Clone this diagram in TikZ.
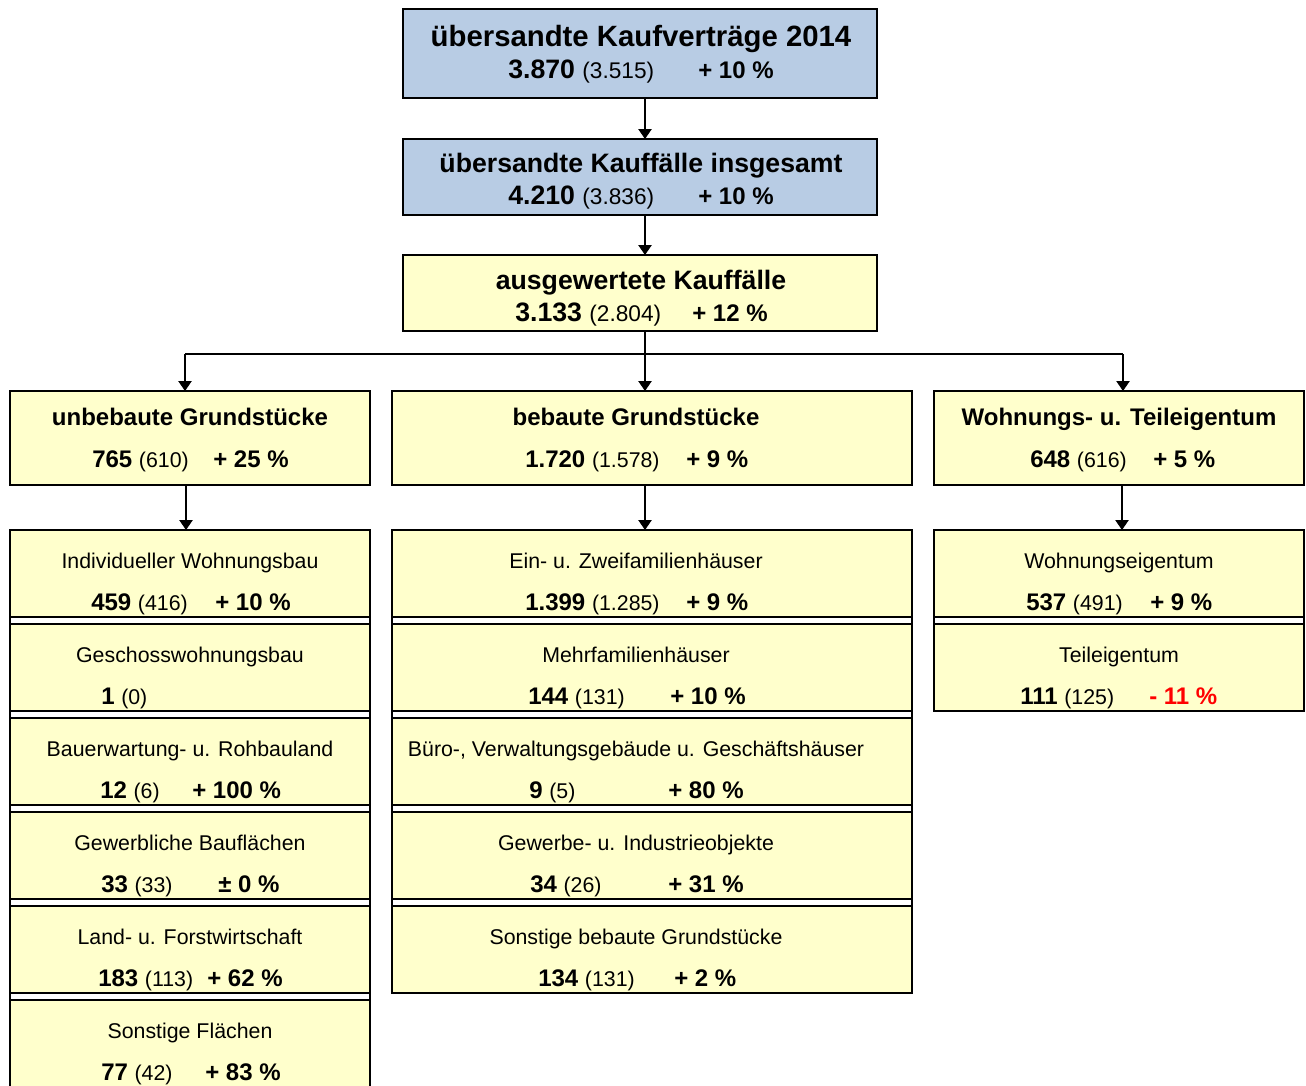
\documentclass[tikz,border=0pt]{standalone}
\usepackage{fontspec}
\setmainfont{Liberation Sans}
\usepackage{xcolor}
\usetikzlibrary{arrows.meta, positioning}
\definecolor{kvblue}{RGB}{184,204,228}
\definecolor{kvyellow}{RGB}{255,255,204}
\definecolor{kvred}{RGB}{255,0,0}
\newcommand{\vj}[2][16]{{\mdseries\fontsize{#1}{#1}\selectfont(#2)}}

\tikzset{
  topbox/.style={draw, line width=1.5pt, fill=kvblue, minimum width=355.5pt, inner sep=0pt, outer sep=0pt},
  midbox/.style={draw, line width=1.5pt, fill=kvyellow, minimum width=355.5pt, minimum height=57pt, inner sep=0pt, outer sep=0pt},
  catbox/.style={draw, line width=1.5pt, fill=kvyellow, minimum height=70.5pt, inner sep=0pt, outer sep=0pt},
  subbox/.style={draw, line width=1.5pt, fill=kvyellow, minimum height=65.25pt, inner sep=0pt, outer sep=0pt},
  frame/.style={line width=1.5pt},
  toptitle/.style={inner sep=0pt, anchor=base, font=\fontsize{20}{20}\selectfont\bfseries},
  cattitle/.style={inner sep=0pt, anchor=base, font=\fontsize{18}{18}\selectfont\bfseries},
  sublbl/.style={inner sep=0pt, anchor=base, font=\fontsize{16}{16}\selectfont},
  topnum/.style={inner sep=0pt, anchor=base west, font=\fontsize{20}{20}\selectfont\bfseries},
  num/.style={inner sep=0pt, anchor=base west, font=\fontsize{18}{18}\selectfont\bfseries},
  pct/.style={inner sep=0pt, anchor=base west, font=\fontsize{18}{18}\selectfont\bfseries},
  arr/.style={-{Triangle[length=7.5pt,width=10pt]}, line width=1.1pt},
  line/.style={line width=1.1pt}
}

\begin{document}
\begin{tikzpicture}[x=0.75pt, y=-0.75pt]
  \useasboundingbox (0,0) rectangle (1306,1085);

  %% top chain
  \node[topbox, minimum height=66.75pt] (kv) at (640,53.5) {};
  \node[toptitle, font=\fontsize{22}{22}\selectfont\bfseries] (kv-t) at (641,46) {übersandte Kaufverträge 2014};
  \node[topnum] (kv-n) at (508,78) {3.870 \vj[17]{3.515}};
  \node[pct] (kv-p) at (698,78) {+ 10 \%};

  \node[topbox, minimum height=57pt] (kf) at (640,177) {};
  \node[toptitle] (kf-t) at (641,172) {übersandte Kauffälle insgesamt};
  \node[topnum] (kf-n) at (508,204) {4.210 \vj[17]{3.836}};
  \node[pct] (kf-p) at (698,204) {+ 10 \%};

  \node[midbox] (ak) at (640,293) {};
  \node[toptitle] (ak-t) at (641,289) {ausgewertete Kauffälle};
  \node[topnum] (ak-n) at (515,321) {3.133 \vj[17]{2.804}};
  \node[pct] (ak-p) at (692,321) {+ 12 \%};

  \draw[arr] ([xshift=3.75pt]kv.south) -- ([xshift=3.75pt]kf.north);
  \draw[arr] ([xshift=3.75pt]kf.south) -- ([xshift=3.75pt]ak.north);

  %% categories
  \node[catbox, minimum width=270pt] (ug) at (190,438) {};
  \node[cattitle] (ug-t) at (190,425) {unbebaute Grundstücke};
  \node[num] (ug-n) at (92,467) {765 \vj{610}};
  \node[pct] (ug-p) at (213,467) {+ 25 \%};

  \node[catbox, minimum width=390pt] (bg) at (652,438) {};
  \node[cattitle] (bg-t) at (636,425) {bebaute Grundstücke};
  \node[num] (bg-n) at (525,467) {1.720 \vj{1.578}};
  \node[pct] (bg-p) at (686,467) {+ 9 \%};

  \node[catbox, minimum width=277.5pt] (wt) at (1119,438) {};
  \node[cattitle] (wt-t) at (1119,425) {Wohnungs- u. Teileigentum};
  \node[num] (wt-n) at (1030,467) {648 \vj{616}};
  \node[pct] (wt-p) at (1153,467) {+ 5 \%};

  \coordinate (split) at (645,354);
  \coordinate (bl) at (185,354);
  \coordinate (br) at (1123,354);
  \draw[line] ([xshift=3.75pt]ak.south) -- (split);
  \draw[line] (bl) -- (br);
  \draw[arr] (bl) -- (bl |- ug.north);
  \draw[arr] (split) -- (split |- bg.north);
  \draw[arr] (br) -- (br |- wt.north);

  %% unbebaute Grundstuecke
  \node[subbox, minimum width=270pt] (iwb) at (190,573.5) {};
  \node[sublbl] (iwb-t) at (190,568) {Individueller Wohnungsbau};
  \node[num] (iwb-n) at (91,610) {459 \vj{416}};
  \node[pct] (iwb-p) at (215,610) {+ 10 \%};

  \node[subbox, minimum width=270pt] (gwb) at (190,667.5) {};
  \node[sublbl] (gwb-t) at (190,662) {Geschosswohnungsbau};
  \node[num] (gwb-n) at (101,704) {1 \vj{0}};

  \node[subbox, minimum width=270pt] (bwr) at (190,761.5) {};
  \node[sublbl] (bwr-t) at (190,756) {Bauerwartung- u. Rohbauland};
  \node[num] (bwr-n) at (100,798) {12 \vj{6}};
  \node[pct] (bwr-p) at (192,798) {+ 100 \%};

  \node[subbox, minimum width=270pt] (gbf) at (190,855.5) {};
  \node[sublbl] (gbf-t) at (190,850) {Gewerbliche Bauflächen};
  \node[num] (gbf-n) at (101,892) {33 \vj{33}};
  \node[pct] (gbf-p) at (218,892) {± 0 \%};

  \node[subbox, minimum width=270pt] (lfw) at (190,949.5) {};
  \node[sublbl] (lfw-t) at (190,944) {Land- u. Forstwirtschaft};
  \node[num] (lfw-n) at (98,986) {183 \vj{113}};
  \node[pct] (lfw-p) at (207,986) {+ 62 \%};

  \node[subbox, minimum width=270pt] (sfl) at (190,1043.5) {};
  \node[sublbl] (sfl-t) at (190,1038) {Sonstige Flächen};
  \node[num] (sfl-n) at (101,1080) {77 \vj{42}};
  \node[pct] (sfl-p) at (205,1080) {+ 83 \%};

  \draw[frame] (iwb.north west) rectangle (sfl.south east);

  %% bebaute Grundstuecke
  \node[subbox, minimum width=390pt] (ezf) at (652,573.5) {};
  \node[sublbl] (ezf-t) at (636,568) {Ein- u. Zweifamilienhäuser};
  \node[num] (ezf-n) at (525,610) {1.399 \vj{1.285}};
  \node[pct] (ezf-p) at (686,610) {+ 9 \%};

  \node[subbox, minimum width=390pt] (mfh) at (652,667.5) {};
  \node[sublbl] (mfh-t) at (636,662) {Mehrfamilienhäuser};
  \node[num] (mfh-n) at (528,704) {144 \vj{131}};
  \node[pct] (mfh-p) at (670,704) {+ 10 \%};

  \node[subbox, minimum width=390pt] (bvg) at (652,761.5) {};
  \node[sublbl] (bvg-t) at (636,756) {Büro-, Verwaltungsgebäude u. Geschäftshäuser};
  \node[num] (bvg-n) at (529,798) {9 \vj{5}};
  \node[pct] (bvg-p) at (668,798) {+ 80 \%};

  \node[subbox, minimum width=390pt] (gio) at (652,855.5) {};
  \node[sublbl] (gio-t) at (636,850) {Gewerbe- u. Industrieobjekte};
  \node[num] (gio-n) at (530,892) {34 \vj{26}};
  \node[pct] (gio-p) at (668,892) {+ 31 \%};

  \node[subbox, minimum width=390pt] (sbg) at (652,949.5) {};
  \node[sublbl] (sbg-t) at (636,944) {Sonstige bebaute Grundstücke};
  \node[num] (sbg-n) at (538,986) {134 \vj{131}};
  \node[pct] (sbg-p) at (674,986) {+ 2 \%};

  \draw[frame] (ezf.north west) rectangle (sbg.south east);

  %% Wohnungs- und Teileigentum
  \node[subbox, minimum width=277.5pt] (wei) at (1119,573.5) {};
  \node[sublbl] (wei-t) at (1119,568) {Wohnungseigentum};
  \node[num] (wei-n) at (1026,610) {537 \vj{491}};
  \node[pct] (wei-p) at (1150,610) {+ 9 \%};

  \node[subbox, minimum width=277.5pt] (tei) at (1119,667.5) {};
  \node[sublbl] (tei-t) at (1119,662) {Teileigentum};
  \node[num] (tei-n) at (1020,704) {111 \vj{125}};
  \node[pct, text=kvred] (tei-p) at (1149,704) {- 11 \%};

  \draw[frame] (wei.north west) rectangle (tei.south east);

  \draw[arr] ([xshift=-3pt]ug.south) -- ([xshift=-3pt]iwb.north);
  \draw[arr] ([xshift=-5.25pt]bg.south) -- ([xshift=-5.25pt]ezf.north);
  \draw[arr] ([xshift=2.25pt]wt.south) -- ([xshift=2.25pt]wei.north);
\end{tikzpicture}
\end{document}
